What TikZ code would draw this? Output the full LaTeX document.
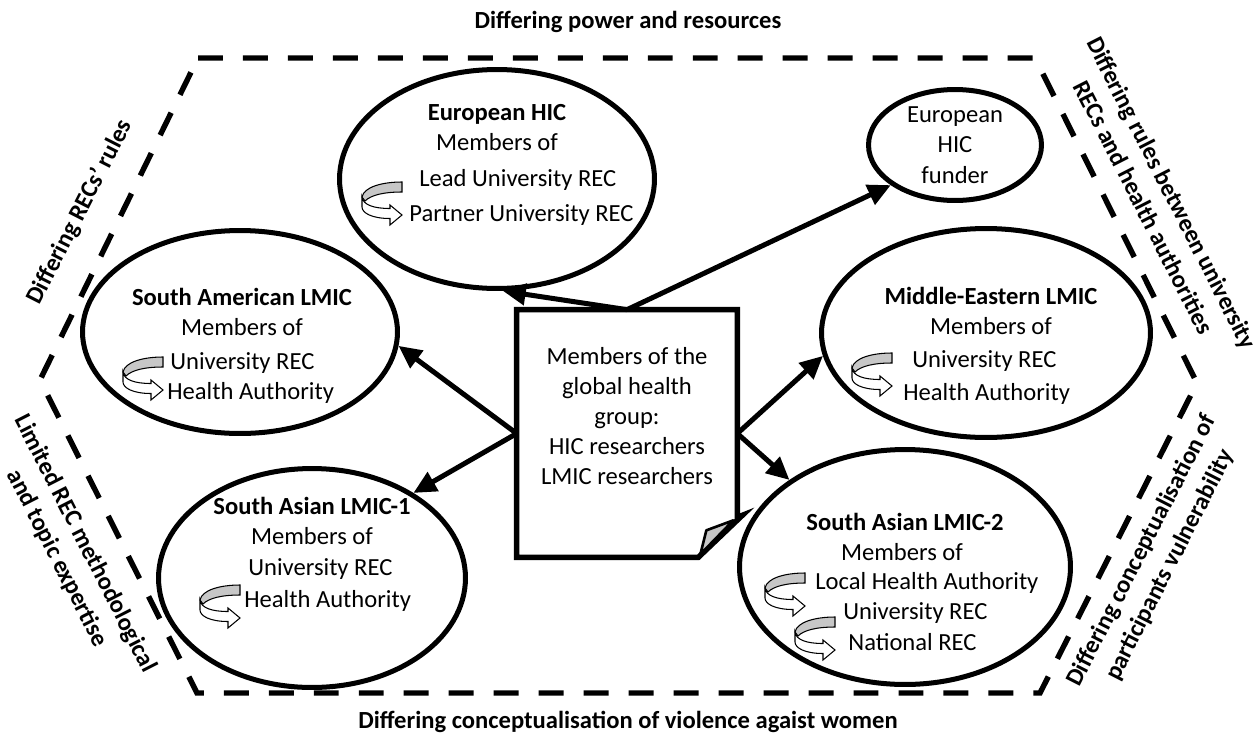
\documentclass[tikz,border=0pt]{standalone}
\usepackage{fontspec}
\setmainfont{Carlito}
\usetikzlibrary{shapes.geometric,arrows.meta,calc}
\begin{document}
\begin{tikzpicture}[x=0.02cm,y=-0.02cm,
  txt/.style={inner sep=0pt, font=\fontsize{14pt}{17.1pt}\selectfont, text height=9pt, text depth=0pt},
  hd/.style={txt, font=\fontsize{14pt}{17.1pt}\selectfont\bfseries},
  side/.style={inner sep=0pt, align=center, font=\fontsize{14pt}{18pt}\selectfont\bfseries},
  grp/.style={ellipse, draw, line width=2.85pt, inner sep=0pt},
  hexline/.style={line width=3.1pt, dash pattern=on 14.2pt off 11.4pt},
  arr/.style={line width=2.85pt, -{Triangle[length=13pt,width=12pt]}},
  turnicon/.pic={
    \draw[line width=0.6pt, fill=black!22]
      (40,0) .. controls (20,0) and (2,5) .. (0,15) -- (3,19)
      .. controls (9,13) and (22,10) .. (40,10) -- cycle;
    \draw[line width=0.6pt, fill=white]
      (0,15) .. controls (1,23) and (12,26.5) .. (28,26.5) -- (28,23) -- (40,33)
      -- (28,43) -- (28,36.5) .. controls (10,36.5) and (0,31) .. (0,25) -- cycle;
  }]
\useasboundingbox (0,0) rectangle (1257,744);

% outer dashed hexagon
\draw[hexline] (198,58) -- (1035,58) -- (1197,383) -- (1040,693) -- (197,693) -- (40,380) -- cycle;

% labels around the hexagon
\node[side] (ltop) at (628,22) {Differing power and resources};
\node[side] (lbot) at (628,722) {Differing conceptualisation of violence agaist women};
\node[side, rotate=63] (lul) at (80,212) {Differing RECs’ rules};
\node[side, rotate=-63] (lur) at (1158,200) {Differing rules between university\\RECs and health authorities};
\node[side, rotate=-63] (lll) at (71,551) {Limited REC methodological\\and topic expertise};
\node[side, rotate=63] (llr) at (1156,558) {Differing conceptualisation of\\participants vulnerability};

% group ellipses
\node[grp, minimum width=6.30cm, minimum height=4.38cm] (euro) at (497,179) {};
\node[grp, minimum width=3.46cm, minimum height=2.22cm] (funder) at (955,145) {};
\node[grp, minimum width=6.30cm, minimum height=4.06cm] (samer) at (240,332) {};
\node[grp, minimum width=6.58cm, minimum height=4.18cm] (meast) at (986,333) {};
\node[grp, minimum width=6.14cm, minimum height=4.38cm] (sasia1) at (312,578) {};
\node[grp, minimum width=6.62cm, minimum height=4.70cm] (sasia2) at (905,567) {};

% central document
\node[minimum width=4.4cm, minimum height=4.94cm, inner sep=0pt] (doc) at (627,433.5) {};
\draw[line width=3.1pt]
  (doc.north west) -- (doc.north east) -- ($(doc.south east)+(0,-40)$)
  -- ($(doc.south east)+(5,-42)$) -- ($(doc.south east)+(-39,0)$)
  -- (doc.south west) -- cycle;
\draw[line width=1.5pt, fill=black!22, line join=round]
  ($(doc.south east)+(-37,-3)$) -- ($(doc.south east)+(-31,-27)$)
  -- ($(doc.south east)+(-4,-37)$) -- cycle;
\node[txt] (dt1) at (627,357) {Members of the};
\node[txt] (dt2) at (627,387) {global health};
\node[txt] (dt3) at (627,417) {group:};
\node[txt] (dt4) at (627,447) {HIC researchers};
\node[txt] (dt5) at (627,477) {LMIC researchers};

% connectors
\draw[arr] (doc.north) -- (euro.-87);
\draw[arr] (doc.north) -- (funder.-148);
\draw[arr] (doc.west) -- (samer.-5);
\draw[arr] (doc.west) -- (sasia1.40);
\draw[arr] (doc.east) -- (meast.188);
\draw[arr] (doc.east) -- (sasia2.143);

% European HIC
\node[hd] (eu1) at (497,113) {European HIC};
\node[txt] (eu2) at (497,143) {Members of};
\node[txt, anchor=west] (eu3) at (419,179) {Lead University REC};
\node[txt, anchor=west] (eu4) at (409,214) {Partner University REC};
\pic at (362,182) {turnicon};

% European funder
\node[txt] (fu1) at (955,115) {European};
\node[txt] (fu2) at (955,145) {HIC};
\node[txt] (fu3) at (955,176) {funder};

% South American LMIC
\node[hd] (sa1) at (242,298) {South American LMIC};
\node[txt] (sa2) at (242,328) {Members of};
\node[txt, anchor=west] (sa3) at (170,362) {University REC};
\node[txt, anchor=west] (sa4) at (167,392) {Health Authority};
\pic at (123,357) {turnicon};

% Middle-Eastern LMIC
\node[hd] (me1) at (991,297) {Middle-Eastern LMIC};
\node[txt] (me2) at (991,327) {Members of};
\node[txt, anchor=west] (me3) at (912,360) {University REC};
\node[txt, anchor=west] (me4) at (903,393) {Health Authority};
\pic at (852,353) {turnicon};

% South Asian LMIC-1
\node[hd] (s1a) at (312,507) {South Asian LMIC-1};
\node[txt] (s1b) at (312,537) {Members of};
\node[txt, anchor=west] (s1c) at (248,568) {University REC};
\node[txt, anchor=west] (s1d) at (244,600) {Health Authority};
\pic at (200,585) {turnicon};

% South Asian LMIC-2
\node[hd] (s2a) at (905,523) {South Asian LMIC-2};
\node[txt] (s2b) at (902,553) {Members of};
\node[txt, anchor=west] (s2c) at (815,582) {Local Health Authority};
\node[txt, anchor=west] (s2d) at (843,612) {University REC};
\node[txt, anchor=west] (s2e) at (848,643) {National REC};
\pic at (765,573) {turnicon};
\pic at (795,617) {turnicon};
\end{tikzpicture}
\end{document}
